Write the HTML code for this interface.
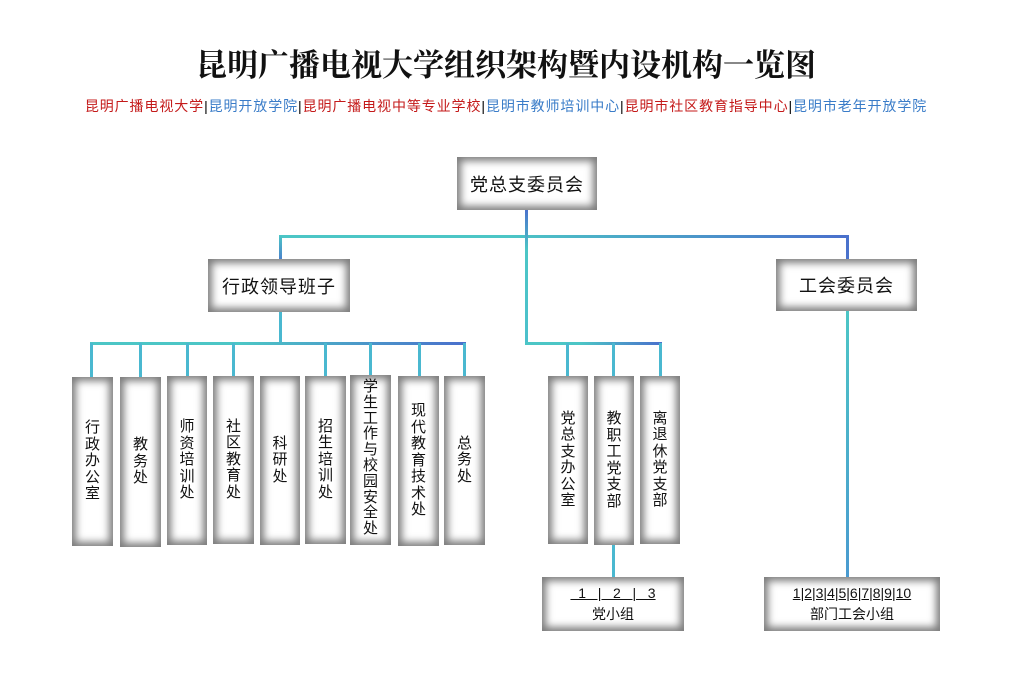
<!DOCTYPE html>
<html><head><meta charset="utf-8"><style>
body{margin:0;width:1012px;height:675px;background:#fff;position:relative;overflow:hidden;font-family:"Liberation Sans","Noto Sans CJK SC",sans-serif;}
.b{position:absolute;background:#fff;box-shadow:inset 0 0 8px 4px #7c7c7c;display:flex;align-items:center;justify-content:center;color:#111;}
.h{font-size:18px;letter-spacing:1px;}
.v{flex-direction:column;font-size:15px;line-height:16.5px;text-align:center;}
.t{position:absolute;left:0;width:1012px;text-align:center;}
.lh{position:absolute;height:3px;background:linear-gradient(90deg,#4cc6c6,#4cc6c6 40%,#4a6fcc);}
.lv{position:absolute;width:3px;background:#4ab8d0;}
</style></head><body>
<div class="t" style="top:40px;font-size:31px;font-weight:bold;font-family:'Liberation Serif','Noto Serif CJK SC',serif;color:#111;">昆明广播电视大学组织架构暨内设机构一览图</div>
<div class="t" style="top:96px;font-size:14px;letter-spacing:0.9px;"><span style="color:#c41a1a">昆明广播电视大学</span>|<span style="color:#3a7cc8">昆明开放学院</span>|<span style="color:#c41a1a">昆明广播电视中等专业学校</span>|<span style="color:#3a7cc8">昆明市教师培训中心</span>|<span style="color:#c41a1a">昆明市社区教育指导中心</span>|<span style="color:#3a7cc8">昆明市老年开放学院</span></div>

<div class="lh" style="left:279px;top:235px;width:570px"></div>
<div class="lv" style="left:525px;top:210px;height:135px;background:linear-gradient(180deg,#4a72cc,#4cc6c6 30%,#4cc0cc)"></div>
<div class="lv" style="left:279px;top:235px;height:25px;background:linear-gradient(180deg,#4cc6c6,#4a80cc)"></div>
<div class="lv" style="left:846px;top:235px;height:25px;background:#4a72cc"></div>
<div class="lv" style="left:279px;top:311px;height:33px"></div>
<div class="lh" style="left:90px;top:342px;width:376px"></div>
<div class="lh" style="left:525px;top:342px;width:137px"></div>
<div class="lv" style="left:846px;top:311px;height:267px;background:linear-gradient(180deg,#4cc6c6,#4a9ad0)"></div>
<div class="lv" style="left:612px;top:545px;height:33px"></div>
<div class="lv" style="left:90px;top:343px;height:35px"></div>
<div class="lv" style="left:139px;top:343px;height:35px"></div>
<div class="lv" style="left:186px;top:343px;height:35px"></div>
<div class="lv" style="left:232px;top:343px;height:35px"></div>
<div class="lv" style="left:324px;top:343px;height:35px"></div>
<div class="lv" style="left:369px;top:343px;height:35px"></div>
<div class="lv" style="left:418px;top:343px;height:35px"></div>
<div class="lv" style="left:463px;top:343px;height:35px"></div>
<div class="lv" style="left:566px;top:343px;height:35px"></div>
<div class="lv" style="left:612px;top:343px;height:35px"></div>
<div class="lv" style="left:659px;top:343px;height:35px"></div>

<div class="b h" style="left:457px;top:157px;width:140px;height:53px">党总支委员会</div>
<div class="b h" style="left:208px;top:259px;width:142px;height:53px">行政领导班子</div>
<div class="b h" style="left:776px;top:259px;width:141px;height:52px">工会委员会</div>
<div class="b v" style="left:72px;top:377px;width:41px;height:169px">行<br>政<br>办<br>公<br>室</div>
<div class="b v" style="left:120px;top:377px;width:41px;height:170px">教<br>务<br>处</div>
<div class="b v" style="left:167px;top:376px;width:40px;height:169px">师<br>资<br>培<br>训<br>处</div>
<div class="b v" style="left:213px;top:376px;width:41px;height:168px">社<br>区<br>教<br>育<br>处</div>
<div class="b v" style="left:260px;top:376px;width:40px;height:169px">科<br>研<br>处</div>
<div class="b v" style="left:305px;top:376px;width:41px;height:168px">招<br>生<br>培<br>训<br>处</div>
<div class="b v" style="left:350px;top:375px;width:41px;height:170px;line-height:15.8px;padding-bottom:4px;box-sizing:border-box">学<br>生<br>工<br>作<br>与<br>校<br>园<br>安<br>全<br>处</div>
<div class="b v" style="left:398px;top:376px;width:41px;height:170px">现<br>代<br>教<br>育<br>技<br>术<br>处</div>
<div class="b v" style="left:444px;top:376px;width:41px;height:169px">总<br>务<br>处</div>
<div class="b v" style="left:548px;top:376px;width:40px;height:168px">党<br>总<br>支<br>办<br>公<br>室</div>
<div class="b v" style="left:594px;top:376px;width:40px;height:169px">教<br>职<br>工<br>党<br>支<br>部</div>
<div class="b v" style="left:640px;top:376px;width:40px;height:168px">离<br>退<br>休<br>党<br>支<br>部</div>
<div class="b v" style="left:542px;top:577px;width:142px;height:54px;font-size:14px;line-height:21px"><span style="text-decoration:underline;white-space:pre">  1   |   2   |   3</span><span>党小组</span></div>
<div class="b v" style="left:764px;top:577px;width:176px;height:54px;font-size:14px;line-height:21px"><span style="text-decoration:underline">1|2|3|4|5|6|7|8|9|10</span><span>部门工会小组</span></div>
</body></html>
